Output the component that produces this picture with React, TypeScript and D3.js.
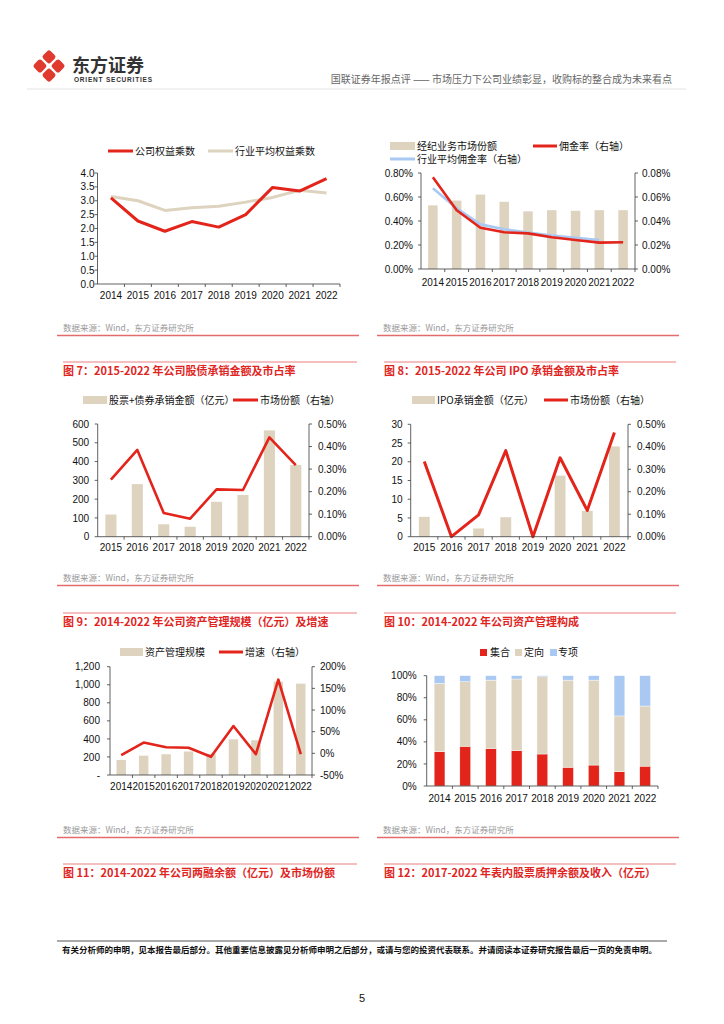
import React from "react";
import * as d3 from "d3";

// ---- data ----
const years = ["2014", "2015", "2016", "2017", "2018", "2019", "2020", "2021", "2022"];
const years15 = years.slice(1);

const equityMultCompany = [3.1, 2.27, 1.9, 2.25, 2.05, 2.5, 3.48, 3.35, 3.8];
const equityMultIndustry = [3.15, 3.0, 2.65, 2.75, 2.8, 2.95, 3.12, 3.38, 3.28];

const brokerShare = [0.53, 0.57, 0.62, 0.56, 0.48, 0.49, 0.485, 0.49, 0.49];
const commissionRate = [0.0764, 0.049, 0.0344, 0.0306, 0.0297, 0.0264, 0.0242, 0.022, 0.0223];
const industryCommission = [0.0672, 0.0506, 0.0372, 0.0331, 0.0303, 0.0278, 0.026, 0.0242];

const underwriting = [118, 280, 66, 53, 186, 222, 566, 382];
const underwritingShare = [0.253, 0.385, 0.105, 0.08, 0.21, 0.207, 0.441, 0.318];

const ipoAmount = [5.3, 0, 2.2, 5.2, 0, 16.3, 6.9, 24.1];
const ipoShare = [0.335, 0, 0.097, 0.383, 0, 0.351, 0.117, 0.464];

const amScale = [166, 214, 230, 260, 235, 395, 385, 1034, 1012];
const amGrowth = [-4, 25, 14, 13, -8, 63, -2, 170, -2];

const amCollective = [31, 36, 34, 32, 29, 17, 19, 13, 18];
const amDirectional = [62, 58.5, 62, 65, 70, 79, 77, 50.5, 54.5];
const amSpecial = [7, 5.5, 4, 3, 1, 4, 4, 36.5, 27.5];
const amKeys = ["集合", "定向", "专项"];

// ---- styles ----
const RED = "#E3241B";
const BEIGE = "#DDD3BE";
const BLUE = "#A9C9F2";
const AXIS = "#3a3a3a";
const FONT_CN = "'Noto Sans CJK SC', 'Noto Sans', sans-serif";
const FONT_NUM = "'Liberation Sans', Arial, sans-serif";

type Lin = d3.ScaleLinear<number, number>;
type Band = d3.ScaleBand<string>;

function YAxis({ scale, x, ticks, fmt, side, gap = 8 }: {
  scale: Lin; x: number; ticks: number[]; fmt: (v: number) => string; side: "left" | "right"; gap?: number;
}) {
  const dir = side === "left" ? -1 : 1;
  const [y0, y1] = scale.range();
  return (
    <g>
      <line x1={x} x2={x} y1={y0} y2={y1} stroke={AXIS} strokeWidth={0.8} />
      {ticks.map((t) => (
        <g key={t}>
          <line x1={x} x2={x + dir * 3} y1={scale(t)} y2={scale(t)} stroke={AXIS} strokeWidth={0.8} />
          <text x={x + dir * gap} y={scale(t) + 3.6} textAnchor={side === "left" ? "end" : "start"}
            fontFamily={FONT_NUM} fontSize={10} fill="#111">{fmt(t)}</text>
        </g>
      ))}
    </g>
  );
}

function XAxis({ scale, y, labelDy }: { scale: Band; y: number; labelDy: number }) {
  const [x0, x1] = scale.range();
  const bw = scale.bandwidth();
  return (
    <g>
      <line x1={x0} x2={x1} y1={y} y2={y} stroke={AXIS} strokeWidth={0.8} />
      {scale.domain().map((d) => (
        <line key={"t" + d} x1={scale(d)! + bw} x2={scale(d)! + bw} y1={y} y2={y + 3} stroke={AXIS} strokeWidth={0.8} />
      ))}
      {scale.domain().map((d) => (
        <text key={d} x={scale(d)! + bw / 2} y={y + labelDy} textAnchor="middle"
          fontFamily={FONT_NUM} fontSize={10} fill="#111">{d}</text>
      ))}
    </g>
  );
}

function LegLine({ x, y, color, label, w = 25 }: { x: number; y: number; color: string; label: string; w?: number }) {
  return (
    <g>
      <line x1={x} x2={x + w} y1={y} y2={y} stroke={color} strokeWidth={3} />
      <text x={x + w + 2} y={y + 3.6} fontFamily={FONT_CN} fontSize={10} fill="#111">{label}</text>
    </g>
  );
}

function LegRect({ x, y, color, label, w = 24, h = 8 }: { x: number; y: number; color: string; label: string; w?: number; h?: number }) {
  return (
    <g>
      <rect x={x} y={y - h / 2} width={w} height={h} fill={color} />
      <text x={x + w + 2} y={y + 3.6} fontFamily={FONT_CN} fontSize={10} fill="#111">{label}</text>
    </g>
  );
}

function Bars({ x, y, values, color, ratio = 0.42 }: { x: Band; y: Lin; values: number[]; color: string; ratio?: number }) {
  const bw = x.bandwidth();
  const w = bw * ratio;
  return (
    <g>
      {x.domain().map((d, i) => (
        <rect key={d} x={x(d)! + (bw - w) / 2} y={y(values[i])} width={w} height={y(0) - y(values[i])} fill={color} />
      ))}
    </g>
  );
}

function Series({ x, y, values, color, width = 2.6 }: { x: Band; y: Lin; values: number[]; color: string; width?: number }) {
  const gen = d3.line<number>()
    .x((_, i) => x(x.domain()[i])! + x.bandwidth() / 2)
    .y((v) => y(v));
  return <path d={gen(values)!} fill="none" stroke={color} strokeWidth={width} strokeLinejoin="round" />;
}

const pct2 = (v: number) => v.toFixed(2) + "%";

function EquityChart() {
  const x = d3.scaleBand().domain(years).range([97.5, 340]);
  const y = d3.scaleLinear().domain([0, 4]).range([284, 173]);
  return (
    <g>
      <LegLine x={108} y={151} color={RED} label="公司权益乘数" />
      <LegLine x={208} y={151} color={BEIGE} label="行业平均权益乘数" />
      <Series x={x} y={y} values={equityMultIndustry} color={BEIGE} width={3} />
      <Series x={x} y={y} values={equityMultCompany} color={RED} width={3} />
      <YAxis scale={y} x={97.5} ticks={d3.range(0, 4.01, 0.5)} fmt={(d) => d.toFixed(1)} side="left" gap={3} />
      <XAxis scale={x} y={284} labelDy={14.6} />
    </g>
  );
}

function BrokerChart() {
  const x = d3.scaleBand().domain(years).range([421, 635]);
  const yL = d3.scaleLinear().domain([0, 0.8]).range([269, 173]);
  const yR = d3.scaleLinear().domain([0, 0.08]).range([269, 173]);
  const xs = d3.scaleBand().domain(years.slice(0, industryCommission.length)).range([421, 421 + x.bandwidth() * industryCommission.length]);
  return (
    <g>
      <LegRect x={390} y={146} color={BEIGE} label="经纪业务市场份额" w={25} />
      <LegLine x={533} y={146} color={RED} label="佣金率（右轴）" w={24} />
      <LegLine x={390} y={159} color={BLUE} label="行业平均佣金率（右轴）" w={25} />
      <Bars x={x} y={yL} values={brokerShare} color={BEIGE} ratio={0.4} />
      <Series x={xs} y={yR} values={industryCommission} color={BLUE} />
      <Series x={x} y={yR} values={commissionRate} color={RED} />
      <YAxis scale={yL} x={421} ticks={d3.range(0, 0.81, 0.2)} fmt={pct2} side="left" />
      <YAxis scale={yR} x={635} ticks={d3.range(0, 0.081, 0.02)} fmt={pct2} side="right" gap={7} />
      <XAxis scale={x} y={269} labelDy={17} />
    </g>
  );
}

function UnderwritingChart() {
  const x = d3.scaleBand().domain(years15).range([97.7, 309]);
  const yL = d3.scaleLinear().domain([0, 600]).range([536.7, 424]);
  const yR = d3.scaleLinear().domain([0, 0.5]).range([536.7, 424]);
  return (
    <g>
      <LegRect x={83} y={400} color={BEIGE} label="股票+债券承销金额（亿元）" />
      <LegLine x={233} y={400} color={RED} label="市场份额（右轴）" />
      <Bars x={x} y={yL} values={underwriting} color={BEIGE} />
      <Series x={x} y={yR} values={underwritingShare} color={RED} />
      <YAxis scale={yL} x={97.7} ticks={d3.range(0, 601, 100)} fmt={(d) => String(d)} side="left" gap={8.5} />
      <YAxis scale={yR} x={309} ticks={d3.range(0, 0.51, 0.1)} fmt={pct2} side="right" gap={9} />
      <XAxis scale={x} y={536.7} labelDy={14.6} />
    </g>
  );
}

function IpoChart() {
  const x = d3.scaleBand().domain(years15).range([410.7, 628]);
  const yL = d3.scaleLinear().domain([0, 30]).range([536.7, 424.3]);
  const yR = d3.scaleLinear().domain([0, 0.5]).range([536.7, 424.3]);
  return (
    <g>
      <LegRect x={412} y={400} color={BEIGE} label="IPO承销金额（亿元）" w={23} />
      <LegLine x={544} y={400} color={RED} label="市场份额（右轴）" w={24} />
      <Bars x={x} y={yL} values={ipoAmount} color={BEIGE} ratio={0.4} />
      <Series x={x} y={yR} values={ipoShare} color={RED} width={3} />
      <YAxis scale={yL} x={410.7} ticks={d3.range(0, 31, 5)} fmt={(d) => String(d)} side="left" />
      <YAxis scale={yR} x={628} ticks={d3.range(0, 0.51, 0.1)} fmt={pct2} side="right" gap={9} />
      <XAxis scale={x} y={536.7} labelDy={14.6} />
    </g>
  );
}

function AssetMgmtChart() {
  const x = d3.scaleBand().domain(years).range([110, 312]);
  const yL = d3.scaleLinear().domain([0, 1200]).range([775, 666.7]);
  const yR = d3.scaleLinear().domain([-50, 200]).range([775, 666.7]);
  return (
    <g>
      <LegRect x={120} y={652} color={BEIGE} label="资产管理规模" w={23} />
      <LegLine x={219} y={652} color={RED} label="增速（右轴）" w={24} />
      <Bars x={x} y={yL} values={amScale} color={BEIGE} />
      <Series x={x} y={yR} values={amGrowth} color={RED} />
      <YAxis scale={yL} x={110} ticks={d3.range(0, 1201, 200)} fmt={(d) => (d === 0 ? "-" : d3.format(",")(d))} side="left" gap={10} />
      <YAxis scale={yR} x={312} ticks={d3.range(-50, 201, 50)} fmt={(d) => d + "%"} side="right" gap={8} />
      <XAxis scale={x} y={775} labelDy={15.3} />
    </g>
  );
}

function AssetMixChart() {
  const x = d3.scaleBand().domain(years).range([426.7, 658]);
  const y = d3.scaleLinear().domain([0, 100]).range([786, 675.7]);
  const rows = years.map((yr, i) => ({ year: yr, 集合: amCollective[i], 定向: amDirectional[i], 专项: amSpecial[i] }));
  const stack = d3.stack<any>().keys(amKeys)(rows);
  const colors = [RED, BEIGE, BLUE];
  const bw = x.bandwidth();
  const w = bw * 0.42;
  return (
    <g>
      {amKeys.map((k, i) => (
        <g key={k}>
          <rect x={480 + i * 35} y={649} width={7} height={7} fill={colors[i]} />
          <text x={490 + i * 34} y={656} fontFamily={FONT_CN} fontSize={10} fill="#111">{k}</text>
        </g>
      ))}
      {stack.map((s, si) => (
        <g key={s.key}>
          {s.map((d, i) => (
            <rect key={i} x={x(years[i])! + (bw - w) / 2} y={y(d[1])} width={w} height={y(d[0]) - y(d[1])}
              fill={colors[si]} stroke="#fff" strokeWidth={0.4} />
          ))}
        </g>
      ))}
      <YAxis scale={y} x={426.7} ticks={d3.range(0, 101, 20)} fmt={(d) => d + "%"} side="left" gap={10} />
      <XAxis scale={x} y={786} labelDy={16} />
    </g>
  );
}

function SourceNote({ x, y, x1, x2 }: { x: number; y: number; x1: number; x2: number }) {
  return (
    <g>
      <text x={x} y={y} fontFamily={FONT_CN} fontSize={8.5} fill="#999">数据来源：Wind，东方证券研究所</text>
      <line x1={x1} x2={x2} y1={y + 4.5} y2={y + 4.5} stroke="#E36B6B" strokeWidth={1.3} />
    </g>
  );
}

function FigTitle({ x, y, x2, text }: { x: number; y: number; x2: number; text: string }) {
  return (
    <g>
      <line x1={x} x2={x2} y1={y - 13} y2={y - 13} stroke="#F2AAAA" strokeWidth={1.5} />
      <text x={x} y={y} fontFamily={FONT_CN} fontSize={11} fontWeight="bold" fill="#E0251F">{text}</text>
    </g>
  );
}

function Logo() {
  const s = 10.6;
  const g = 2.2;
  const cells = [[0, 0], [1, 0], [0, 1], [1, 1]];
  return (
    <g transform="translate(49,66) rotate(45)">
      {cells.map(([cx, cy], i) => (
        <rect key={i} x={-s - g / 2 + cx * (s + g)} y={-s - g / 2 + cy * (s + g)} width={s} height={s} rx={2.6} fill="#E03A2F" />
      ))}
    </g>
  );
}

export default function App() {
  return (
    <svg width={724} height={1024} style={{ position: "absolute", left: 0, top: 0 }}>
      <rect width={724} height={1024} fill="#fff" />
      <Logo />
      <text x={72} y={72} fontFamily={FONT_CN} fontSize={18} fontWeight="bold" fill="#333">东方证券</text>
      <text x={74} y={81.5} fontFamily={FONT_NUM} fontSize={6.5} fontWeight="bold" fill="#333" textLength={78}>ORIENT SECURITIES</text>
      <text x={672} y={83} textAnchor="end" fontFamily={FONT_CN} fontSize={10} fill="#666">
        国联证券年报点评 —— 市场压力下公司业绩彰显，收购标的整合成为未来看点
      </text>
      <line x1={27} x2={686} y1={89} y2={89} stroke="#e3e3e3" strokeWidth={1} />

      <EquityChart />
      <BrokerChart />
      <SourceNote x={63} y={331} x1={57} x2={359} />
      <SourceNote x={383} y={331} x1={377} x2={679} />

      <FigTitle x={63} y={375} x2={357} text="图 7：2015-2022 年公司股债承销金额及市占率" />
      <FigTitle x={384} y={375} x2={676} text="图 8：2015-2022 年公司 IPO 承销金额及市占率" />
      <UnderwritingChart />
      <IpoChart />
      <SourceNote x={63} y={581} x1={57} x2={359} />
      <SourceNote x={383} y={581} x1={377} x2={679} />

      <FigTitle x={63} y={626} x2={357} text="图 9：2014-2022 年公司资产管理规模（亿元）及增速" />
      <FigTitle x={384} y={626} x2={676} text="图 10：2014-2022 年公司资产管理构成" />
      <AssetMgmtChart />
      <AssetMixChart />
      <SourceNote x={63} y={833} x1={57} x2={359} />
      <SourceNote x={383} y={833} x1={377} x2={679} />

      <FigTitle x={63} y={877} x2={357} text="图 11：2014-2022 年公司两融余额（亿元）及市场份额" />
      <FigTitle x={384} y={877} x2={676} text="图 12：2017-2022 年表内股票质押余额及收入（亿元）" />

      <line x1={57} x2={667} y1={941} y2={941} stroke="#555" strokeWidth={1} />
      <text x={62} y={953} fontFamily={FONT_CN} fontSize={8.5} fontWeight="bold" fill="#111">
        有关分析师的申明，见本报告最后部分。其他重要信息披露见分析师申明之后部分，或请与您的投资代表联系。并请阅读本证券研究报告最后一页的免责申明。
      </text>
      <text x={362} y={1002} textAnchor="middle" fontFamily={FONT_NUM} fontSize={11} fill="#111">5</text>
    </svg>
  );
}
